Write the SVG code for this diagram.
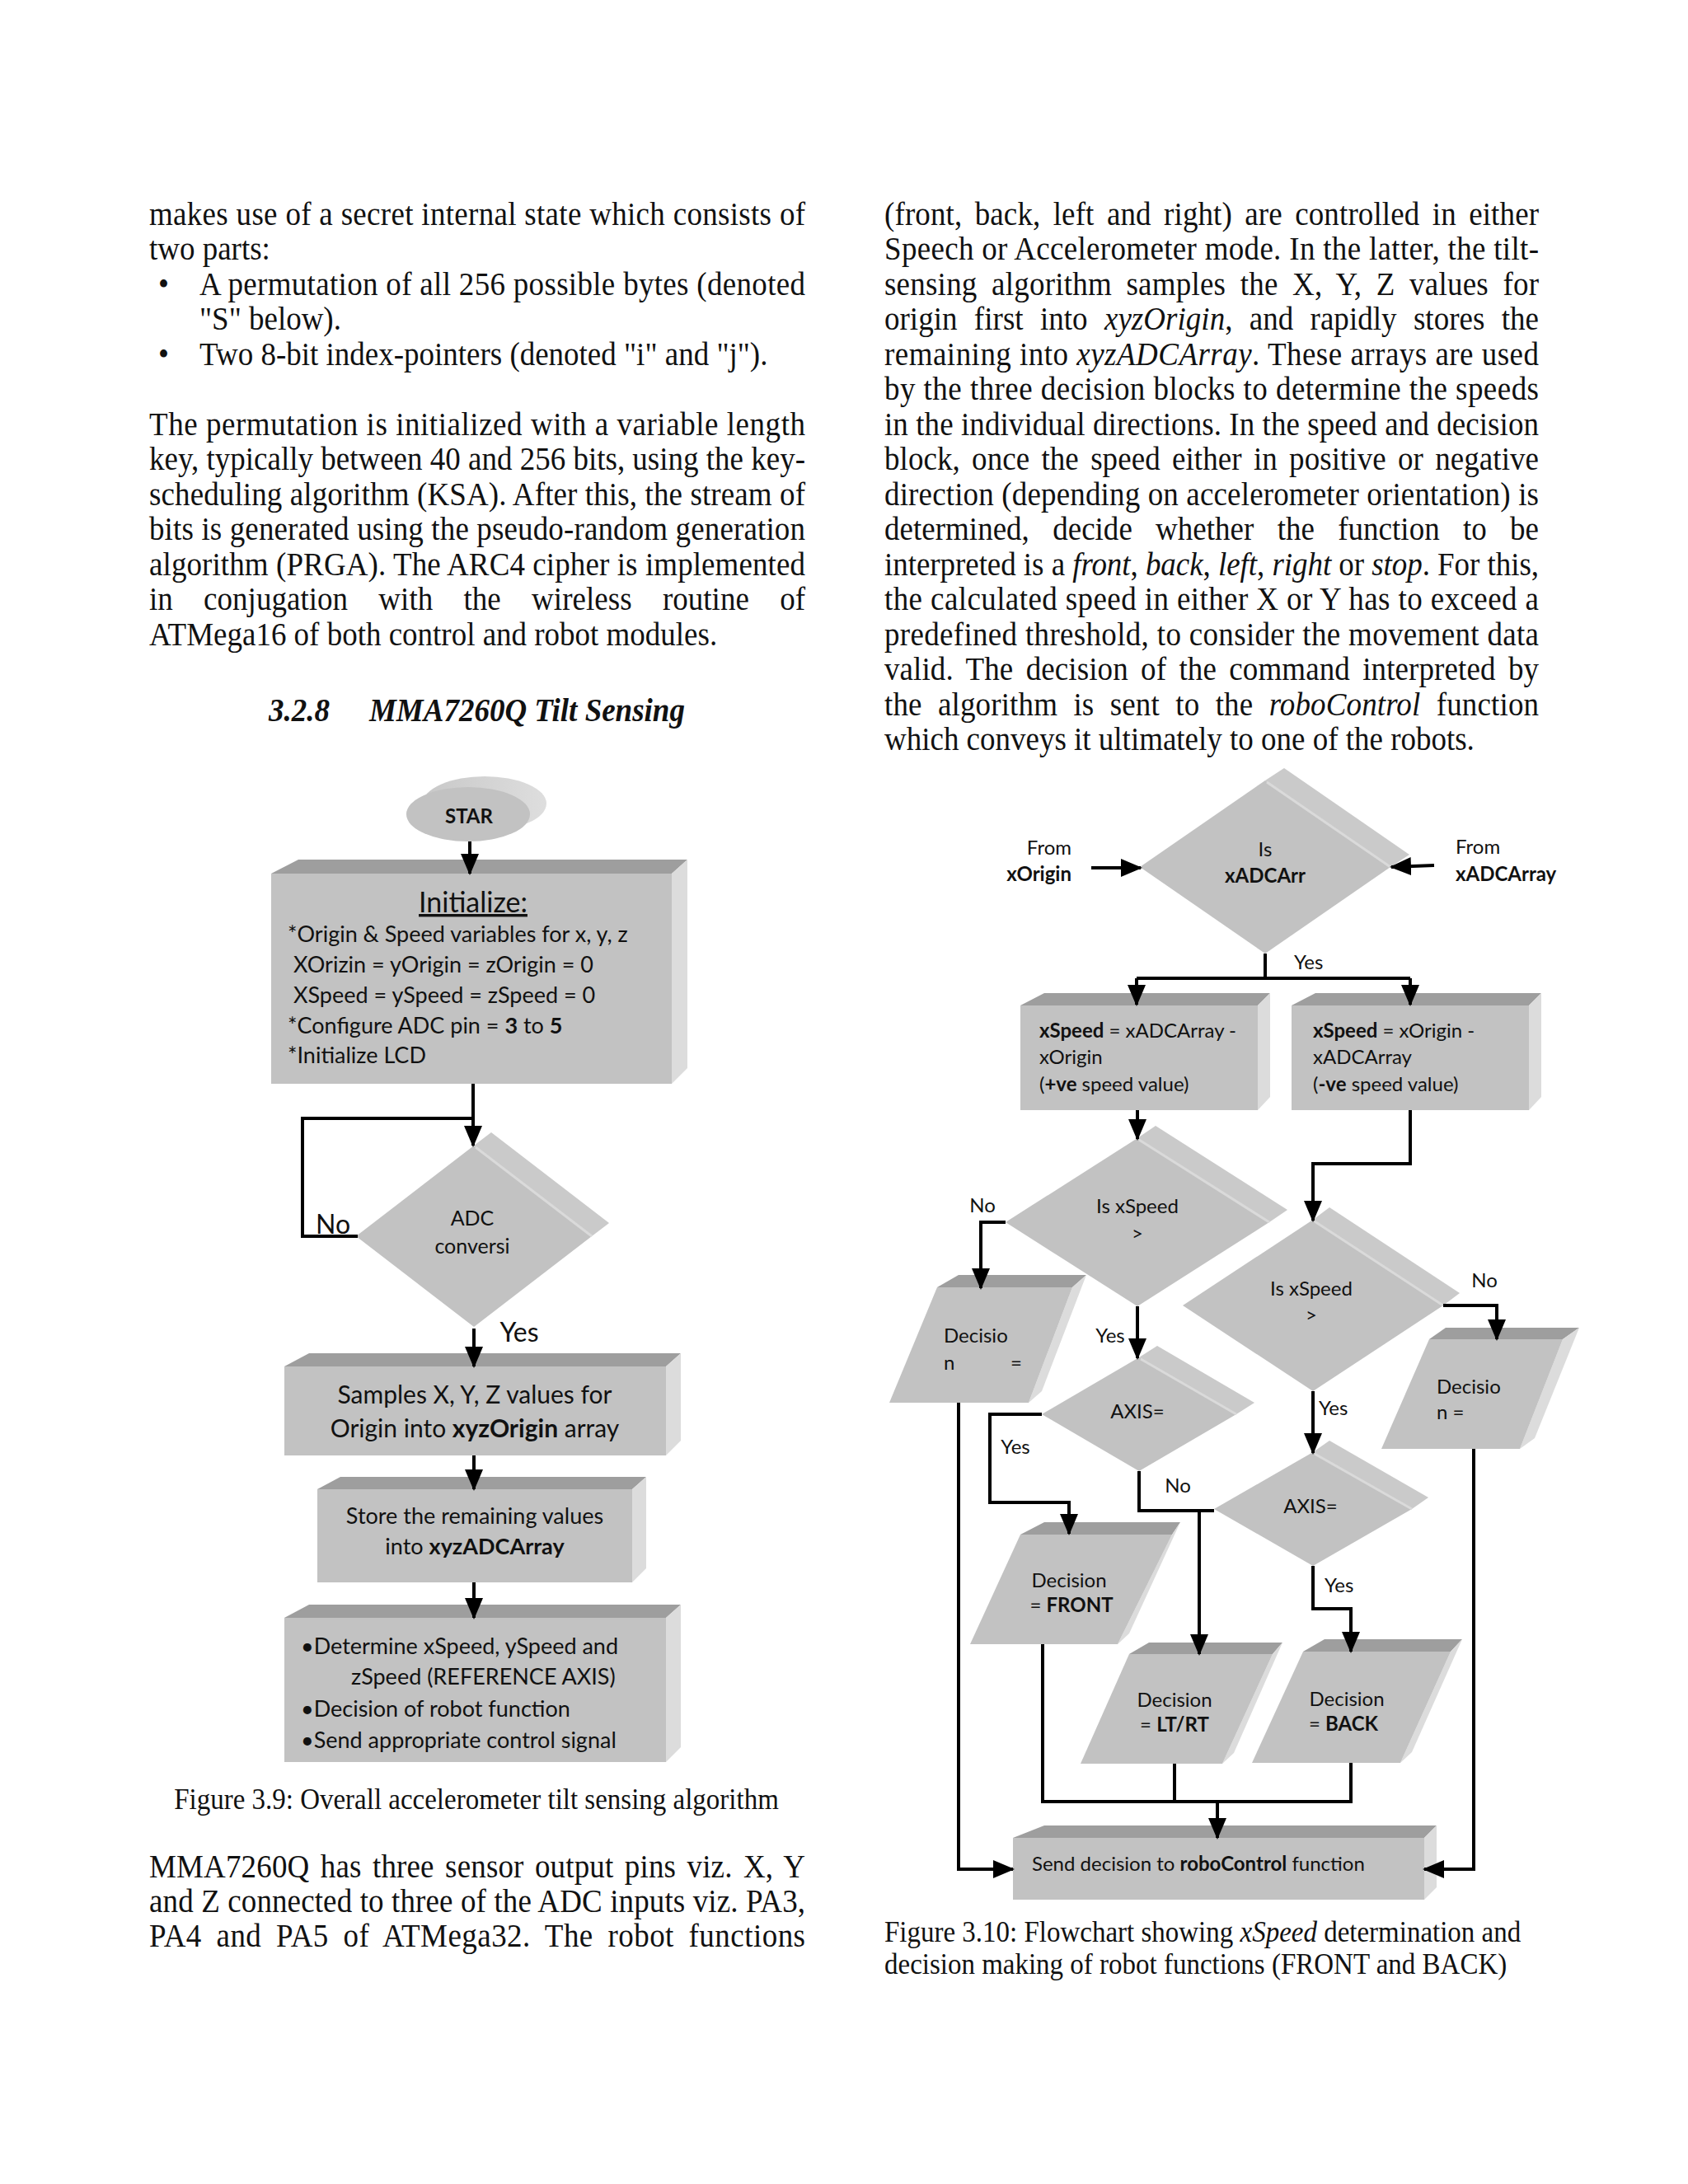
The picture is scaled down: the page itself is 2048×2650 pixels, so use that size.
<svg xmlns="http://www.w3.org/2000/svg" width="2048" height="2650" viewBox="0 0 2048 2650">
<style>
.b{font-family:"Liberation Serif","Times New Roman",serif;font-size:37px;fill:#111}
.cap{font-family:"Liberation Serif","Times New Roman",serif;font-size:33px;fill:#111}
.f{font-family:Lato,"Open Sans","Liberation Sans",sans-serif;fill:#111}
.l27{font-size:27px}
.l24{font-size:24px}
.fr{fill:#c2c2c2}
.tp{fill:#9e9e9e}
.sd{fill:#dcdcdc}
.ds{fill:#cacaca}
.hl{stroke:#dadada;stroke-width:3;fill:none}
.c{stroke:#000;stroke-width:4;fill:none}
.a{marker-end:url(#ah)}
</style>
<defs>
<marker id="ah" viewBox="0 0 26 22" refX="24" refY="11" markerWidth="26" markerHeight="22" markerUnits="userSpaceOnUse" orient="auto">
<path d="M0,0 L26,11 L0,22 z" fill="#000"/>
</marker>
<linearGradient id="capg" x1="0" y1="0" x2="1" y2="0">
<stop offset="0" stop-color="#c8c8c8"/>
<stop offset="1" stop-color="#dedede"/>
</linearGradient>
</defs>
<rect width="2048" height="2650" fill="#fff"/>

<!-- Body text left column -->
<g id="text-left">
<text class="b" transform="matrix(1 0 0 1.1 0 -27.3)" x="181" y="273" textLength="796" lengthAdjust="spacing">makes use of a secret internal state which consists of</text>
<text class="b" transform="matrix(1 0 0 1.1 0 -31.55)" x="181" y="315.5">two parts:</text>
<text class="b" transform="matrix(1 0 0 1.1 0 -35.8)" x="192" y="358">•</text>
<text class="b" transform="matrix(1 0 0 1.1 0 -35.8)" x="242" y="358" textLength="735" lengthAdjust="spacing">A permutation of all 256 possible bytes (denoted</text>
<text class="b" transform="matrix(1 0 0 1.1 0 -40.05)" x="242" y="400.5">"S" below).</text>
<text class="b" transform="matrix(1 0 0 1.1 0 -44.3)" x="192" y="443">•</text>
<text class="b" transform="matrix(1 0 0 1.1 0 -44.3)" x="242" y="443">Two 8-bit index-pointers (denoted "i" and "j").</text>
<text class="b" transform="matrix(1 0 0 1.1 0 -52.8)" x="181" y="528" textLength="796" lengthAdjust="spacing">The permutation is initialized with a variable length</text>
<text class="b" transform="matrix(1 0 0 1.1 0 -57.05)" x="181" y="570.5" textLength="796" lengthAdjust="spacing">key, typically between 40 and 256 bits, using the key-</text>
<text class="b" transform="matrix(1 0 0 1.1 0 -61.3)" x="181" y="613" textLength="796" lengthAdjust="spacing">scheduling algorithm (KSA). After this, the stream of</text>
<text class="b" transform="matrix(1 0 0 1.1 0 -65.55)" x="181" y="655.5" textLength="796" lengthAdjust="spacing">bits is generated using the pseudo-random generation</text>
<text class="b" transform="matrix(1 0 0 1.1 0 -69.8)" x="181" y="698" textLength="796" lengthAdjust="spacing">algorithm (PRGA). The ARC4 cipher is implemented</text>
<text class="b" transform="matrix(1 0 0 1.1 0 -74.05)" x="181" y="740.5" style="word-spacing:28px" textLength="796" lengthAdjust="spacing">in conjugation with the wireless routine of</text>
<text class="b" transform="matrix(1 0 0 1.1 0 -78.3)" x="181" y="783">ATMega16 of both control and robot modules.</text>
<text class="b" transform="matrix(1 0 0 1.1 0 -87.5)" x="326" y="875" font-weight="bold" font-style="italic">3.2.8</text>
<text class="b" transform="matrix(1 0 0 1.1 0 -87.5)" x="448" y="875" font-weight="bold" font-style="italic">MMA7260Q Tilt Sensing</text>
</g>

<!-- Body text right column -->
<g id="text-right">
<text class="b" transform="matrix(1 0 0 1.1 0 -27.3)" x="1073" y="273" style="word-spacing:6px" textLength="794" lengthAdjust="spacing">(front, back, left and right) are controlled in either</text>
<text class="b" transform="matrix(1 0 0 1.1 0 -31.55)" x="1073" y="315.5" textLength="794" lengthAdjust="spacing">Speech or Accelerometer mode. In the latter, the tilt-</text>
<text class="b" transform="matrix(1 0 0 1.1 0 -35.8)" x="1073" y="358" style="word-spacing:8px" textLength="794" lengthAdjust="spacing">sensing algorithm samples the X, Y, Z values for</text>
<text class="b" transform="matrix(1 0 0 1.1 0 -40.05)" x="1073" y="400.5" style="word-spacing:11px" textLength="794" lengthAdjust="spacing">origin first into <tspan font-style="italic">xyzOrigin</tspan>, and rapidly stores the</text>
<text class="b" transform="matrix(1 0 0 1.1 0 -44.3)" x="1073" y="443" textLength="794" lengthAdjust="spacing">remaining into <tspan font-style="italic">xyzADCArray</tspan>.  These arrays are used</text>
<text class="b" transform="matrix(1 0 0 1.1 0 -48.55)" x="1073" y="485.5" textLength="794" lengthAdjust="spacing">by the three decision blocks to determine the speeds</text>
<text class="b" transform="matrix(1 0 0 1.1 0 -52.8)" x="1073" y="528" textLength="794" lengthAdjust="spacing">in the individual directions. In the speed and decision</text>
<text class="b" transform="matrix(1 0 0 1.1 0 -57.05)" x="1073" y="570.5" style="word-spacing:5px" textLength="794" lengthAdjust="spacing">block, once the speed either in positive or negative</text>
<text class="b" transform="matrix(1 0 0 1.1 0 -61.3)" x="1073" y="613" textLength="794" lengthAdjust="spacing">direction (depending on accelerometer orientation) is</text>
<text class="b" transform="matrix(1 0 0 1.1 0 -65.55)" x="1073" y="655.5" style="word-spacing:19px" textLength="794" lengthAdjust="spacing">determined, decide whether the function to be</text>
<text class="b" transform="matrix(1 0 0 1.1 0 -69.8)" x="1073" y="698" textLength="794" lengthAdjust="spacing">interpreted is a <tspan font-style="italic">front</tspan>, <tspan font-style="italic">back</tspan>, <tspan font-style="italic">left</tspan>, <tspan font-style="italic">right</tspan> or <tspan font-style="italic">stop</tspan>. For this,</text>
<text class="b" transform="matrix(1 0 0 1.1 0 -74.05)" x="1073" y="740.5" textLength="794" lengthAdjust="spacing">the calculated speed in either X or Y has to exceed a</text>
<text class="b" transform="matrix(1 0 0 1.1 0 -78.3)" x="1073" y="783" textLength="794" lengthAdjust="spacing">predefined threshold, to consider the movement data</text>
<text class="b" transform="matrix(1 0 0 1.1 0 -82.55)" x="1073" y="825.5" style="word-spacing:6px" textLength="794" lengthAdjust="spacing">valid. The decision of the command interpreted by</text>
<text class="b" transform="matrix(1 0 0 1.1 0 -86.8)" x="1073" y="868" style="word-spacing:10px" textLength="794" lengthAdjust="spacing">the algorithm is sent to the <tspan font-style="italic">roboControl</tspan> function</text>
<text class="b" transform="matrix(1 0 0 1.1 0 -91.05)" x="1073" y="910.5">which conveys it ultimately to one of the robots.</text>
</g>

<!-- Lower texts -->
<g id="text-bottom">
<text class="cap" transform="matrix(1 0 0 1.1 0 -219.5)" x="578" y="2195" text-anchor="middle">Figure 3.9: Overall accelerometer tilt sensing algorithm</text>
<text class="b" transform="matrix(1 0 0 1.1 0 -227.8)" x="181" y="2278" style="word-spacing:4px" textLength="796" lengthAdjust="spacing">MMA7260Q has three sensor output pins viz. X, Y</text>
<text class="b" transform="matrix(1 0 0 1.1 0 -232)" x="181" y="2320" textLength="796" lengthAdjust="spacing">and Z connected to three of the ADC inputs viz. PA3,</text>
<text class="b" transform="matrix(1 0 0 1.1 0 -236.2)" x="181" y="2362" style="word-spacing:8px" textLength="796" lengthAdjust="spacing">PA4 and PA5 of ATMega32. The robot functions</text>
<text class="cap" transform="matrix(1 0 0 1.1 0 -235.6)" x="1073" y="2356">Figure 3.10: Flowchart showing <tspan font-style="italic">xSpeed</tspan> determination and</text>
<text class="cap" transform="matrix(1 0 0 1.1 0 -239.5)" x="1073" y="2395">decision making of robot functions (FRONT and BACK)</text>
</g>

<!-- ============ Figure 3.9 ============ -->
<g id="start">
<polygon points="493,988 513,975 663,975 643,988" fill="url(#capg)"/>
<ellipse cx="588" cy="975" rx="75" ry="33" fill="url(#capg)"/>
<ellipse cx="568" cy="988" rx="75" ry="33" class="fr"/>
<text class="f" x="569" y="999" text-anchor="middle" font-size="24" font-weight="bold">STAR</text>
</g>

<g id="init">
<polygon class="tp" points="329,1060 362,1043 834,1043 815,1060"/>
<polygon class="sd" points="815,1060 834,1043 834,1296 815,1315"/>
<rect class="fr" x="329" y="1060" width="486" height="255"/>
<text class="f" x="574" y="1107" text-anchor="middle" font-size="34" text-decoration="underline">Initialize:</text>
<text class="f l27" x="349" y="1143">*Origin &amp; Speed variables for x, y, z</text>
<text class="f l27" x="356" y="1180">XOrizin = yOrigin = zOrigin = 0</text>
<text class="f l27" x="356" y="1217">XSpeed = ySpeed = zSpeed = 0</text>
<text class="f l27" x="349" y="1254">*Configure ADC pin = <tspan font-weight="bold">3</tspan> to <tspan font-weight="bold">5</tspan></text>
<text class="f l27" x="349" y="1290">*Initialize LCD</text>
</g>

<g id="adc">
<polygon class="ds" points="575,1390 596,1374 739,1484 718,1500"/>
<polygon class="fr" points="575,1390 718,1500 575,1610 432,1500"/>
<line class="hl" x1="577" y1="1392" x2="718" y2="1500"/>
<text class="f" x="573" y="1487" text-anchor="middle" font-size="25">ADC</text>
<text class="f" x="573" y="1521" text-anchor="middle" font-size="25">conversi</text>
</g>

<g id="samples">
<polygon class="tp" points="345,1658 375,1642 826,1642 808,1658"/>
<polygon class="sd" points="808,1658 826,1642 826,1748 808,1766"/>
<rect class="fr" x="345" y="1658" width="463" height="108"/>
<text class="f" x="576" y="1703" text-anchor="middle" font-size="30">Samples X, Y, Z values for</text>
<text class="f" x="576" y="1744" text-anchor="middle" font-size="30">Origin into <tspan font-weight="bold">xyzOrigin</tspan> array</text>
</g>

<g id="store">
<polygon class="tp" points="385,1807 413,1792 784,1792 767,1807"/>
<polygon class="sd" points="767,1807 784,1792 784,1903 767,1920"/>
<rect class="fr" x="385" y="1807" width="382" height="113"/>
<text class="f l27" x="576" y="1849" text-anchor="middle">Store the remaining values</text>
<text class="f l27" x="576" y="1886" text-anchor="middle">into <tspan font-weight="bold">xyzADCArray</tspan></text>
</g>

<g id="determine">
<polygon class="tp" points="345,1963 375,1947 826,1947 808,1963"/>
<polygon class="sd" points="808,1963 826,1947 826,2120 808,2138"/>
<rect class="fr" x="345" y="1963" width="463" height="175"/>
<text class="f l27" x="365" y="2007">•Determine xSpeed, ySpeed and</text>
<text class="f l27" x="426" y="2044">zSpeed (REFERENCE AXIS)</text>
<text class="f l27" x="365" y="2083">•Decision of robot function</text>
<text class="f l27" x="365" y="2121">•Send appropriate control signal</text>
</g>

<g id="connectors-left">
<path class="c a" d="M570,1021 V1060"/>
<path class="c a" d="M574,1315 V1390"/>
<path class="c" d="M434,1500 H367 V1357 H574"/>
<path class="c a" d="M575,1612 V1658"/>
<path class="c a" d="M575,1766 V1807"/>
<path class="c a" d="M575,1920 V1963"/>
<text class="f" x="404" y="1497" text-anchor="middle" font-size="32">No</text>
<text class="f" x="630" y="1628" text-anchor="middle" font-size="32">Yes</text>
</g>

<!-- ============ Figure 3.10 ============ -->
<g id="d1">
<polygon class="ds" points="1535,947 1558,932 1710,1037 1687,1052"/>
<polygon class="fr" points="1535,947 1687,1052 1535,1157 1383,1052"/>
<line class="hl" x1="1537" y1="949" x2="1687" y2="1052"/>
<text class="f l24" x="1535" y="1039" text-anchor="middle">Is</text>
<text class="f l24" x="1535" y="1071" text-anchor="middle" font-weight="bold">xADCArr</text>
</g>

<g id="bplus">
<polygon class="tp" points="1238,1220 1267,1205 1541,1205 1526,1220"/>
<polygon class="sd" points="1526,1220 1541,1205 1541,1331 1526,1347"/>
<rect class="fr" x="1238" y="1220" width="288" height="127"/>
<text class="f l24" x="1261" y="1259"><tspan font-weight="bold">xSpeed</tspan> = xADCArray -</text>
<text class="f l24" x="1261" y="1291">xOrigin</text>
<text class="f l24" x="1261" y="1324">(<tspan font-weight="bold">+ve</tspan> speed value)</text>
</g>

<g id="bminus">
<polygon class="tp" points="1567,1220 1596,1205 1870,1205 1855,1220"/>
<polygon class="sd" points="1855,1220 1870,1205 1870,1331 1855,1347"/>
<rect class="fr" x="1567" y="1220" width="288" height="127"/>
<text class="f l24" x="1593" y="1259"><tspan font-weight="bold">xSpeed</tspan> = xOrigin -</text>
<text class="f l24" x="1593" y="1291">xADCArray</text>
<text class="f l24" x="1593" y="1324">(<tspan font-weight="bold">-ve</tspan> speed value)</text>
</g>

<g id="d2">
<polygon class="ds" points="1380,1381 1402,1366 1562,1468 1540,1483"/>
<polygon class="fr" points="1380,1381 1540,1483 1380,1585 1220,1483"/>
<line class="hl" x1="1382" y1="1383" x2="1540" y2="1483"/>
<text class="f l24" x="1380" y="1472" text-anchor="middle">Is xSpeed</text>
<text class="f l24" x="1380" y="1505" text-anchor="middle">&gt;</text>
</g>

<g id="d3">
<polygon class="ds" points="1593,1480 1613,1465 1771,1569 1751,1584"/>
<polygon class="fr" points="1593,1480 1751,1584 1593,1688 1435,1584"/>
<line class="hl" x1="1595" y1="1482" x2="1751" y2="1584"/>
<text class="f l24" x="1591" y="1572" text-anchor="middle">Is xSpeed</text>
<text class="f l24" x="1591" y="1604" text-anchor="middle">&gt;</text>
</g>

<g id="axis1">
<polygon class="ds" points="1382,1647 1404,1633 1522,1702 1500,1716"/>
<polygon class="fr" points="1382,1647 1500,1716 1382,1785 1264,1716"/>
<line class="hl" x1="1384" y1="1649" x2="1500" y2="1716"/>
<text class="f l24" x="1380" y="1721" text-anchor="middle">AXIS=</text>
</g>

<g id="axis2">
<polygon class="ds" points="1593,1762 1613,1748 1733,1817 1713,1831"/>
<polygon class="fr" points="1593,1762 1713,1831 1593,1900 1473,1831"/>
<line class="hl" x1="1595" y1="1764" x2="1713" y2="1831"/>
<text class="f l24" x="1590" y="1836" text-anchor="middle">AXIS=</text>
</g>

<g id="p1">
<polygon class="tp" points="1137,1562 1163,1547 1318,1547 1301,1562"/>
<polygon class="sd" points="1301,1562 1318,1547 1264,1688 1248,1702"/>
<polygon class="fr" points="1137,1562 1301,1562 1248,1702 1079,1702"/>
<text class="f l24" x="1145" y="1629">Decisio</text>
<text class="f l24" x="1145" y="1662">n</text>
<text class="f l24" x="1226" y="1662">=</text>
</g>

<g id="p5">
<polygon class="tp" points="1734,1625 1754,1611 1916,1611 1896,1625"/>
<polygon class="sd" points="1896,1625 1916,1611 1862,1745 1844,1758"/>
<polygon class="fr" points="1734,1625 1896,1625 1844,1758 1676,1758"/>
<text class="f l24" x="1743" y="1691">Decisio</text>
<text class="f l24" x="1743" y="1722">n =</text>
</g>

<g id="p2">
<polygon class="tp" points="1238,1862 1267,1847 1432,1847 1422,1862"/>
<polygon class="sd" points="1422,1862 1432,1847 1370,1982 1356,1995"/>
<polygon class="fr" points="1238,1862 1422,1862 1356,1995 1177,1995"/>
<text class="f l24" x="1297" y="1926" text-anchor="middle">Decision</text>
<text class="f l24" x="1300" y="1956" text-anchor="middle">= <tspan font-weight="bold">FRONT</tspan></text>
</g>

<g id="p3">
<polygon class="tp" points="1370,2007 1394,1993 1556,1993 1544,2007"/>
<polygon class="sd" points="1544,2007 1556,1993 1497,2127 1483,2140"/>
<polygon class="fr" points="1370,2007 1544,2007 1483,2140 1311,2140"/>
<text class="f l24" x="1425" y="2071" text-anchor="middle">Decision</text>
<text class="f l24" x="1425" y="2101" text-anchor="middle">= <tspan font-weight="bold">LT/RT</tspan></text>
</g>

<g id="p4">
<polygon class="tp" points="1581,2004 1607,1989 1774,1989 1760,2004"/>
<polygon class="sd" points="1760,2004 1774,1989 1713,2126 1699,2139"/>
<polygon class="fr" points="1581,2004 1760,2004 1699,2139 1519,2139"/>
<text class="f l24" x="1634" y="2070" text-anchor="middle">Decision</text>
<text class="f l24" x="1630" y="2100" text-anchor="middle">= <tspan font-weight="bold">BACK</tspan></text>
</g>

<g id="send">
<polygon class="tp" points="1229,2230 1267,2215 1743,2215 1728,2230"/>
<polygon class="sd" points="1728,2230 1743,2215 1743,2290 1728,2305"/>
<rect class="fr" x="1229" y="2230" width="499" height="75"/>
<text class="f l24" x="1252" y="2270">Send decision to <tspan font-weight="bold">roboControl</tspan> function</text>
</g>

<g id="connectors-right">
<path class="c a" d="M1324,1053 H1384"/>
<path class="c a" d="M1740,1050 L1688,1052"/>
<path class="c" d="M1535,1157 V1187"/>
<path class="c" d="M1379,1187 H1711"/>
<path class="c a" d="M1379,1187 V1219"/>
<path class="c a" d="M1711,1187 V1219"/>
<path class="c a" d="M1380,1347 V1382"/>
<path class="c a" d="M1711,1347 V1412 H1593 V1481"/>
<path class="c a" d="M1220,1483 H1190 V1563"/>
<path class="c a" d="M1380,1585 V1648"/>
<path class="c a" d="M1751,1584 H1816 V1625"/>
<path class="c a" d="M1593,1688 V1763"/>
<path class="c a" d="M1264,1716 H1201 V1823 H1297 V1861"/>
<path class="c" d="M1382,1785 V1833 H1473"/>
<path class="c a" d="M1455,1833 V2007"/>
<path class="c a" d="M1593,1900 V1952 H1639 V2004"/>
<path class="c a" d="M1163,1702 V2268 H1229"/>
<path class="c a" d="M1788,1758 V2268 H1728"/>
<path class="c" d="M1265,1995 V2186 H1639 V2139"/>
<path class="c" d="M1425,2140 V2186"/>
<path class="c a" d="M1477,2186 V2230"/>
<text class="f l24" x="1300" y="1037" text-anchor="end">From</text>
<text class="f l24" x="1300" y="1069" text-anchor="end" font-weight="bold">xOrigin</text>
<text class="f l24" x="1766" y="1036">From</text>
<text class="f l24" x="1766" y="1069" font-weight="bold">xADCArray</text>
<text class="f l24" x="1570" y="1176">Yes</text>
<text class="f l24" x="1192" y="1471" text-anchor="middle">No</text>
<text class="f l24" x="1347" y="1629" text-anchor="middle">Yes</text>
<text class="f l24" x="1801" y="1562" text-anchor="middle">No</text>
<text class="f l24" x="1232" y="1764" text-anchor="middle">Yes</text>
<text class="f l24" x="1429" y="1811" text-anchor="middle">No</text>
<text class="f l24" x="1600" y="1717">Yes</text>
<text class="f l24" x="1607" y="1932">Yes</text>
</g>
</svg>
